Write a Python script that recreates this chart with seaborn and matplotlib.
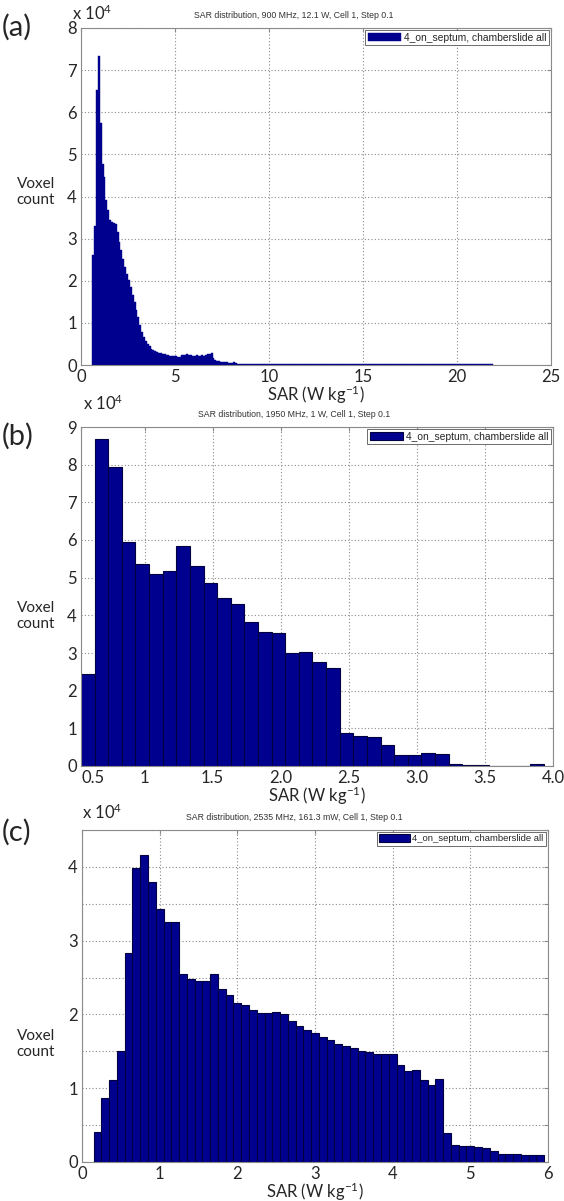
import numpy as np
import pandas as pd
import matplotlib
matplotlib.use("Agg")
import matplotlib.pyplot as plt
import seaborn as sns

# bar heights in units of 10^4 voxels, bin width 0.1 W/kg
LEGEND = "4_on_septum, chamberslide all"
STEP = 0.1

a_title = "SAR distribution, 900 MHz, 12.1 W, Cell 1, Step 0.1"
a_start = 0.6
a_counts = [
    2.60, 3.30, 6.52, 7.34, 5.75, 4.76, 4.47, 3.91, 3.67, 3.44,
    3.40, 3.37, 3.34, 3.16, 2.92, 2.72, 2.52, 2.33, 2.15, 2.01,
    1.85, 1.67, 1.49, 1.31, 1.13, 0.96, 0.78, 0.66, 0.56, 0.50,
    0.44, 0.38, 0.36, 0.34, 0.32, 0.29, 0.28, 0.26, 0.25, 0.24,
    0.23, 0.22, 0.22, 0.21, 0.22, 0.20, 0.18, 0.23, 0.24, 0.24,
    0.25, 0.24, 0.23, 0.22, 0.22, 0.23, 0.21, 0.22, 0.23, 0.22,
    0.24, 0.25, 0.25, 0.28, 0.16, 0.12, 0.09, 0.09, 0.08, 0.06,
    0.06, 0.06, 0.05, 0.05, 0.05, 0.06, 0.05,
    # 8.3 - 10.6
    0.03, 0.03, 0.03, 0.03, 0.03, 0.03, 0.03, 0.03, 0.03, 0.03,
    0.03, 0.03, 0.03, 0.03, 0.03, 0.03, 0.03, 0.03, 0.03, 0.03,
    0.03, 0.03, 0.03,
    # 10.6 - 21.9
    0.012, 0.012, 0.012, 0.012, 0.012, 0.012, 0.012, 0.012, 0.012, 0.012,
    0.012, 0.012, 0.012, 0.012, 0.012, 0.012, 0.012, 0.012, 0.012, 0.012,
    0.012, 0.012, 0.012, 0.012, 0.012, 0.012, 0.012, 0.012, 0.012, 0.012,
    0.012, 0.012, 0.012, 0.012, 0.012, 0.012, 0.012, 0.012, 0.012, 0.012,
    0.012, 0.012, 0.012, 0.012, 0.012, 0.012, 0.012, 0.012, 0.012, 0.012,
    0.012, 0.012, 0.012, 0.012, 0.012, 0.012, 0.012, 0.012, 0.012, 0.012,
    0.012, 0.012, 0.012, 0.012, 0.012, 0.012, 0.012, 0.012, 0.012, 0.012,
    0.012, 0.012, 0.012, 0.012, 0.012, 0.012, 0.012, 0.012, 0.012, 0.012,
    0.012, 0.012, 0.012, 0.012, 0.012, 0.012, 0.012, 0.012, 0.012, 0.012,
    0.012, 0.012, 0.012, 0.012, 0.012, 0.012, 0.012, 0.012, 0.012, 0.012,
    0.012, 0.012, 0.012, 0.012, 0.012, 0.012, 0.012, 0.012, 0.012, 0.012,
    0.012, 0.012, 0.012,
]
a_xticks = [0, 5, 10, 15, 20, 25]
a_xlabels = ["0", "5", "10", "15", "20", "25"]
a_yticks = [0, 1, 2, 3, 4, 5, 6, 7, 8]

b_title = "SAR distribution, 1950 MHz, 1 W, Cell 1, Step 0.1"
b_start = 0.533
b_counts = [
    2.45, 8.68, 7.95, 5.96, 5.36, 5.09, 5.17, 5.83, 5.32, 4.87,
    4.46, 4.29, 3.81, 3.56, 3.53, 3.00, 3.02, 2.76, 2.60, 0.87,
    0.80, 0.78, 0.56, 0.29, 0.29, 0.34, 0.31, 0.04, 0.03, 0.02,
    0.01, 0.01, 0.01, 0.04,
]
b_xticks = [0.533, 1.0, 1.5, 2.0, 2.5, 3.0, 3.5, 4.0]
b_xlabels = ["0.5", "1", "1.5", "2.0", "2.5", "3.0", "3.5", "4.0"]
b_yticks = [0, 1, 2, 3, 4, 5, 6, 7, 8, 9]

c_title = "SAR distribution, 2535 MHz, 161.3 mW, Cell 1, Step 0.1"
c_start = 0.15
c_counts = [
    0.40, 0.87, 1.11, 1.51, 2.83, 3.98, 4.16, 3.79, 3.43, 3.25,
    3.25, 2.55, 2.48, 2.46, 2.46, 2.55, 2.35, 2.27, 2.15, 2.13,
    2.06, 2.02, 2.02, 2.03, 2.00, 1.91, 1.84, 1.79, 1.75, 1.69,
    1.65, 1.60, 1.57, 1.54, 1.51, 1.49, 1.47, 1.46, 1.46, 1.31,
    1.23, 1.25, 1.11, 1.05, 1.12, 0.39, 0.23, 0.22, 0.22, 0.21,
    0.19, 0.15, 0.11, 0.11, 0.11, 0.10, 0.095, 0.095,
]
c_xticks = [0, 1, 2, 3, 4, 5, 6]
c_xlabels = ["0", "1", "2", "3", "4", "5", "6"]
c_yticks = [0, 0.5, 1, 1.5, 2, 2.5, 3, 3.5, 4, 4.5]
c_ylabels = ["0", "", "1", "", "2", "", "3", "", "4", ""]

NAVY = "#00008f"
GRID = "#8a8a8a"

sns.set_style("white")
plt.rcParams["font.family"] = ["Lato", "DejaVu Sans"]
plt.rcParams["mathtext.default"] = "regular"

W, H = 564, 1201
fig = plt.figure(figsize=(W / 100, H / 100), dpi=100)


def px_axes(left, top, right, bottom):
    return fig.add_axes([left / W, 1 - bottom / H, (right - left) / W, (bottom - top) / H])


def draw_panel(ax, start, counts, xlim, ylim, xticks, xlabels, yticks, ylabels,
               edgecolor, lw, legend_size):
    n = len(counts)
    edges = start + STEP * np.arange(n + 1)
    df = pd.DataFrame({"sar": start + STEP * (np.arange(n) + 0.5),
                       "count": counts})
    sns.histplot(data=df, x="sar", weights="count", bins=list(edges), ax=ax,
                 color=NAVY, alpha=1, edgecolor=edgecolor, linewidth=lw,
                 label=LEGEND)
    ax.set_xlim(*xlim)
    ax.set_ylim(*ylim)
    ax.set_xticks(xticks)
    ax.set_xticklabels(xlabels)
    ax.set_yticks(yticks)
    ax.set_yticklabels(ylabels)
    ax.set_ylabel("")
    ax.set_xlabel("SAR (W kg$^{-1}$)", fontsize=12, labelpad=-1)
    ax.set_axisbelow(True)
    ax.grid(True, linestyle=(0, (1, 2)), color=GRID, linewidth=0.8)
    ax.tick_params(direction="in", length=3, color=GRID, labelsize=12, pad=3,
                   top=True, right=True)
    for s in ax.spines.values():
        s.set_color(GRID)
        s.set_linewidth(0.8)
    leg = ax.legend(loc="upper right", frameon=True,
                    fancybox=False, framealpha=1, borderaxespad=0.2,
                    handlelength=3.2, handleheight=0.8, borderpad=0.25,
                    handletextpad=0.3,
                    prop={"family": "Liberation Sans", "size": legend_size})
    leg.get_frame().set_edgecolor("#555555")
    leg.get_frame().set_linewidth(0.6)


ax_a = px_axes(81, 28, 551, 365)
draw_panel(ax_a, a_start, a_counts, (0, 25), (0, 8), a_xticks, a_xlabels,
           a_yticks, [str(t) for t in a_yticks], NAVY, 0.3, 7.4)

ax_b = px_axes(81, 427, 553, 766)
draw_panel(ax_b, b_start, b_counts, (0.533, 4.0), (0, 9), b_xticks, b_xlabels,
           b_yticks, [str(t) for t in b_yticks], "#000040", 0.8, 7.4)
# the hand-placed "0.5" label sits right of the corner
ax_b.get_xticklabels()[0].set_horizontalalignment("left")

ax_c = px_axes(82, 830, 548, 1162)
draw_panel(ax_c, c_start, c_counts, (0, 6), (0, 4.5), c_xticks, c_xlabels,
           c_yticks, c_ylabels, "#000040", 0.8, 6.8)

# titles, multipliers, panel letters, y labels placed in figure pixels
for title, y in [(a_title, 16), (b_title, 415), (c_title, 818)]:
    fig.text(294 / W, 1 - y / H, title, ha="center", va="center", fontsize=6.3,
             family="Liberation Sans", color="#333333")

for x, y in [(72, 13), (83, 403), (82, 812)]:
    fig.text(x / W, 1 - y / H, "x 10$^4$", ha="left", va="center", fontsize=12)

for letter, y in [("(a)", 27), ("(b)", 436), ("(c)", 832)]:
    fig.text(2 / W, 1 - y / H, letter, ha="left", va="center", fontsize=21)

for y in [192, 616, 1044]:
    fig.text(36 / W, 1 - y / H, "Voxel\ncount", ha="center", va="center",
             fontsize=11, linespacing=1.1)

fig.savefig("out.png", dpi=100)
